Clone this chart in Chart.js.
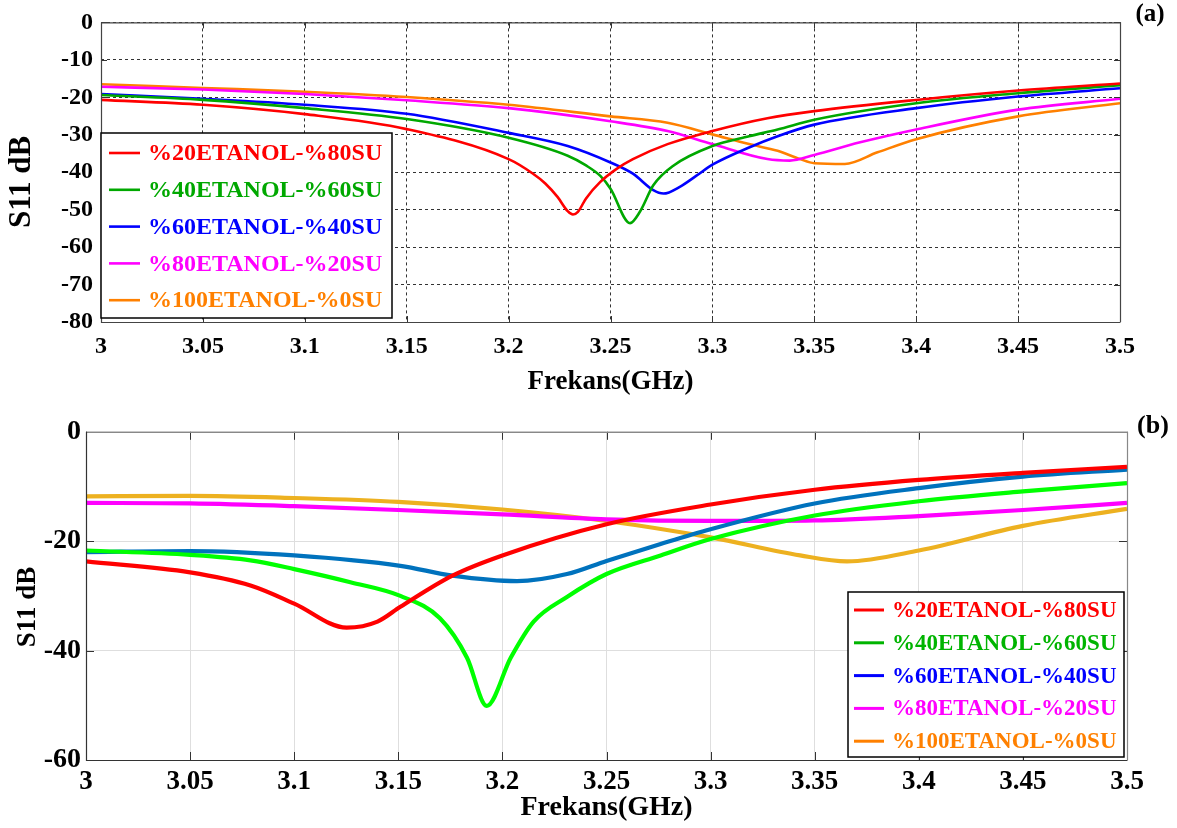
<!DOCTYPE html>
<html><head><meta charset="utf-8">
<script src="https://cdn.jsdelivr.net/npm/chart.js@4.4.0/dist/chart.umd.min.js"></script>
<style>
html,body{margin:0;padding:0;background:#fff;}
#wrap{position:relative;width:1177px;height:828px;overflow:hidden;}
canvas{position:absolute;left:0;}
</style></head><body>
<div id="wrap">
<canvas id="ca" width="1177" height="410" style="top:0"></canvas>
<canvas id="cb" width="1177" height="418" style="top:410px"></canvas>
</div>
<script>
// ---------- shared labels ----------
const seriesLabels = ['%20ETANOL-%80SU','%40ETANOL-%60SU','%60ETANOL-%40SU','%80ETANOL-%20SU','%100ETANOL-%0SU'];
const xTickValues = [3,3.05,3.1,3.15,3.2,3.25,3.3,3.35,3.4,3.45,3.5];
const xTickLabels = ['3','3.05','3.1','3.15','3.2','3.25','3.3','3.35','3.4','3.45','3.5'];
const yTicksA = [0,-10,-20,-30,-40,-50,-60,-70,-80];
const yTicksB = [0,-20,-40,-60];
const xTitle = 'Frekans(GHz)';
const yTitle = 'S11 dB';

// ---------- panel (a) data ----------
const aF20 = [3.0,3.05,3.1,3.15,3.2,3.212,3.218,3.224,3.229,3.2316,3.234,3.238,3.245,3.253,3.261,3.278,3.3,3.327,3.35,3.4,3.45,3.5];
const aS20 = [-20.7,-22.0,-24.5,-28.5,-36.5,-40.4,-43.0,-46.6,-50.4,-51.3,-50.6,-47.0,-42.6,-39.1,-36.5,-32.5,-29.0,-25.6,-23.7,-20.7,-18.2,-16.3];
const aF40 = [3.0,3.05,3.1,3.15,3.2,3.229,3.238,3.245,3.25,3.2596,3.2645,3.271,3.281,3.3,3.318,3.332,3.35,3.4,3.45,3.5];
const aS40 = [-19.4,-20.7,-22.9,-25.8,-30.8,-35.6,-38.2,-41.0,-44.4,-53.6,-50.5,-43.5,-38.2,-33.0,-30.4,-28.6,-26.0,-21.6,-18.9,-16.8];
const aF60 = [3.0,3.05,3.1,3.15,3.2,3.229,3.25,3.261,3.271,3.276,3.284,3.292,3.3,3.318,3.332,3.35,3.4,3.45,3.5];
const aS60 = [-19.1,-20.4,-22.0,-24.4,-29.5,-33.0,-37.4,-40.4,-44.8,-45.7,-43.9,-41.0,-38.0,-33.4,-30.4,-27.3,-22.9,-19.8,-17.6];
const aF80 = [3.0,3.05,3.1,3.15,3.2,3.25,3.278,3.3,3.327,3.338,3.35,3.372,3.4,3.45,3.5];
const aS80 = [-17.2,-17.9,-19.1,-20.8,-22.9,-26.4,-29.0,-32.5,-36.5,-36.9,-35.4,-32.1,-28.6,-23.3,-20.4];
const aF100 = [3.0,3.05,3.1,3.15,3.2,3.25,3.278,3.3,3.318,3.332,3.343,3.35,3.365,3.381,3.4,3.45,3.5];
const aS100 = [-16.5,-17.5,-18.5,-19.9,-22.0,-25.1,-26.8,-29.9,-32.5,-34.3,-36.5,-37.6,-37.8,-34.7,-31.2,-25.1,-21.6];

// ---------- panel (b) data ----------
const bF20 = [3.0,3.05,3.079,3.1,3.1252,3.14,3.151,3.176,3.2,3.25,3.3,3.35,3.4,3.45,3.5];
const bS20 = [-23.7,-25.7,-28.1,-31.4,-35.8,-34.7,-32.0,-26.3,-22.6,-16.9,-13.3,-10.6,-8.8,-7.5,-6.4];
const bF40 = [3.0,3.05,3.079,3.1,3.127,3.151,3.17,3.183,3.1925,3.204,3.215,3.231,3.25,3.276,3.3,3.35,3.4,3.45,3.5];
const bS40 = [-21.7,-22.5,-23.5,-25.1,-27.5,-30.0,-34.1,-41.3,-50.1,-41.3,-34.7,-30.2,-26.0,-22.6,-19.6,-15.3,-12.7,-10.9,-9.4];
const bF60 = [3.0,3.05,3.1,3.151,3.176,3.207,3.231,3.25,3.276,3.3,3.35,3.4,3.45,3.5];
const bS60 = [-22.0,-21.8,-22.6,-24.5,-26.3,-27.3,-26.0,-23.6,-20.5,-17.8,-13.1,-10.3,-8.2,-6.9];
const bF80 = [3.0,3.05,3.1,3.15,3.2,3.25,3.3,3.35,3.4,3.45,3.5];
const bS80 = [-13.0,-13.1,-13.6,-14.3,-15.1,-16.0,-16.3,-16.2,-15.4,-14.3,-13.0];
const bF100 = [3.0,3.05,3.1,3.15,3.2,3.25,3.3,3.343,3.3655,3.4,3.45,3.5];
const bS100 = [-11.8,-11.7,-12.1,-12.8,-14.2,-16.3,-19.3,-22.6,-23.7,-21.7,-17.2,-14.1];

// ---------- styling ----------
const FONT = "'Liberation Serif','Times New Roman',serif";
const colorsA = ['#ff0000','#00a800','#0000ff','#ff00ff','#ff8000'];
const colorsB = ['#ff0000','#00ff00','#0072bd','#ff00ff','#edb120'];
const legendColorsB = ['#ff0000','#00b400','#0000ff','#ff00ff','#ff8000'];

function pts(fs, vs){ return fs.map((f,i)=>({x:f, y:vs[i]})); }

function makeDatasets(pairs, colors, width){
  return pairs.map((p,i)=>({
    label: seriesLabels[i],
    data: pts(p[0], p[1]),
    borderColor: colors[i],
    backgroundColor: colors[i],
    borderWidth: width,
    pointRadius: 0,
    fill: false,
    cubicInterpolationMode: 'monotone'
  }));
}

function overlayPlugin(cfg){
  return {
    id: 'overlay',
    afterDatasetsDraw(chart){
      const ctx = chart.ctx, a = chart.chartArea;
      const xs = chart.scales.x, ys = chart.scales.y;
      ctx.save();
      // inner ticks
      ctx.strokeStyle = cfg.tickColor; ctx.lineWidth = 1;
      ctx.beginPath();
      xTickValues.forEach(v=>{
        const px = Math.round(xs.getPixelForValue(v))+0.5;
        ctx.moveTo(px, a.bottom); ctx.lineTo(px, a.bottom - cfg.tickLen);
        ctx.moveTo(px, a.top); ctx.lineTo(px, a.top + cfg.tickLen);
      });
      cfg.yTicks.forEach(v=>{
        const py = Math.round(ys.getPixelForValue(v))+0.5;
        ctx.moveTo(a.left, py); ctx.lineTo(a.left + cfg.tickLen, py);
        ctx.moveTo(a.right, py); ctx.lineTo(a.right - cfg.tickLen, py);
      });
      ctx.stroke();
      // frame
      ctx.lineWidth = 1.2;
      ctx.strokeStyle = cfg.frameFar;
      ctx.beginPath();
      ctx.moveTo(a.left, a.top+0.5); ctx.lineTo(a.right+0.5, a.top+0.5); ctx.lineTo(a.right+0.5, a.bottom);
      ctx.stroke();
      ctx.strokeStyle = cfg.frameNear;
      ctx.beginPath();
      ctx.moveTo(a.left+0.5, a.top); ctx.lineTo(a.left+0.5, a.bottom+0.5); ctx.lineTo(a.right+0.5, a.bottom+0.5);
      ctx.stroke();
      // legend box
      const L = cfg.legend;
      ctx.fillStyle = '#fff';
      ctx.fillRect(L.x, L.y, L.w, L.h);
      ctx.strokeStyle = '#000'; ctx.lineWidth = 1.5;
      ctx.strokeRect(L.x, L.y, L.w, L.h);
      ctx.font = 'bold ' + L.fontSize + 'px ' + FONT;
      ctx.textBaseline = 'middle'; ctx.textAlign = 'left';
      chart.data.datasets.forEach((ds,i)=>{
        const y = L.firstY + i*L.dy;
        ctx.strokeStyle = L.colors[i]; ctx.lineWidth = L.lineWidth;
        ctx.beginPath(); ctx.moveTo(L.lx1, y); ctx.lineTo(L.lx2, y); ctx.stroke();
        ctx.fillStyle = L.colors[i];
        ctx.fillText(ds.label, L.tx, y+1);
      });
      // y axis title
      const T = cfg.yTitle;
      ctx.save();
      ctx.translate(T.x, T.y);
      ctx.rotate(-Math.PI/2);
      ctx.fillStyle = '#000';
      ctx.font = 'bold ' + T.size + 'px ' + FONT;
      ctx.textAlign = 'center'; ctx.textBaseline = 'middle';
      ctx.fillText(yTitle, 0, 0);
      ctx.restore();
      // panel label
      ctx.fillStyle = '#000';
      ctx.font = 'bold ' + cfg.panel.size + 'px ' + FONT;
      ctx.textAlign = 'center'; ctx.textBaseline = 'middle';
      ctx.fillText(cfg.panel.text, cfg.panel.x, cfg.panel.y);
      ctx.restore();
    }
  };
}

function makeChart(el, o){
  return new Chart(el, {
    type: 'line',
    data: { datasets: o.datasets },
    options: {
      responsive: false, animation: false,
      layout: { padding: o.padding },
      plugins: { legend: {display:false}, tooltip:{enabled:false} },
      scales: {
        x: {
          type: 'linear', min: 3, max: 3.5,
          afterBuildTicks: s => { s.ticks = xTickValues.map(v=>({value:v})); },
          afterFit: s => { s.height = o.xHeight; },
          ticks: { color:'#000', font:{family:FONT, size:o.xTickSize, weight:'bold'}, padding:o.xTickPad, maxRotation:0, autoSkip:false,
                   callback: (v)=>{ const i = xTickValues.findIndex(t=>Math.abs(t-v)<1e-9); return i>=0 ? xTickLabels[i] : ''; } },
          grid: { color:o.gridColor, lineWidth:1, drawTicks:false },
          border: { display:false, dash:o.gridDash },
          title: { display:true, text:xTitle, color:'#000', font:{family:FONT, size:o.xTitleSize, weight:'bold', lineHeight:1.2}, padding:{top:0,bottom:o.xTitlePad} }
        },
        y: {
          type: 'linear', min: o.yMin, max: 0,
          afterBuildTicks: s => { s.ticks = o.yTicks.map(v=>({value:v})); },
          afterFit: s => { s.width = o.yWidth; },
          ticks: { color:'#000', font:{family:FONT, size:o.yTickSize, weight:'bold'}, padding:o.yTickPad, autoSkip:false,
                   callback: v => String(v) },
          grid: { color:o.gridColor, lineWidth:1, drawTicks:false },
          border: { display:false, dash:o.gridDash },
          title: { display:false, text:yTitle }
        }
      }
    },
    plugins: [overlayPlugin(o.overlay)]
  });
}

// ---------- chart (a) ----------
makeChart(document.getElementById('ca'), {
  datasets: makeDatasets([[aF20,aS20],[aF40,aS40],[aF60,aS60],[aF80,aS80],[aF100,aS100]], colorsA, 2.6),
  padding: {left:0, top:18, right:57, bottom:0},
  xHeight: 88, yWidth: 101, yMin: -80, yTicks: yTicksA,
  xTickSize: 24, xTickPad: 10, yTickSize: 24, yTickPad: 8,
  xTitleSize: 27, xTitlePad: 12,
  gridColor: '#333', gridDash: [3,3],
  overlay: {
    tickColor:'#333', tickLen:6, yTicks:yTicksA, frameFar:'#444', frameNear:'#444',
    legend: {x:101, y:133, w:291, h:185, firstY:153, dy:36.8, lx1:109, lx2:140, tx:148, fontSize:24, lineWidth:2.6, colors:colorsA},
    yTitle: {x:22, y:182, size:31},
    panel: {text:'(a)', x:1150, y:15, size:25}
  }
});

// ---------- chart (b) ----------
makeChart(document.getElementById('cb'), {
  datasets: makeDatasets([[bF20,bS20],[bF40,bS40],[bF60,bS60],[bF80,bS80],[bF100,bS100]], colorsB, 4.2),
  padding: {left:0, top:18, right:50, bottom:0},
  xHeight: 68, yWidth: 86, yMin: -60, yTicks: yTicksB,
  xTickSize: 27, xTickPad: 6, yTickSize: 28, yTickPad: 5,
  xTitleSize: 28, xTitlePad: 3,
  gridColor: '#dedede', gridDash: [],
  overlay: {
    tickColor:'#333', tickLen:8, yTicks:yTicksB, frameFar:'#888', frameNear:'#333',
    legend: {x:848, y:182, w:276, h:165, firstY:200, dy:32.8, lx1:854, lx2:884, tx:892, fontSize:23, lineWidth:3, colors:legendColorsB},
    yTitle: {x:28, y:197, size:27},
    panel: {text:'(b)', x:1153, y:16, size:26}
  }
});
</script>
</body></html>
